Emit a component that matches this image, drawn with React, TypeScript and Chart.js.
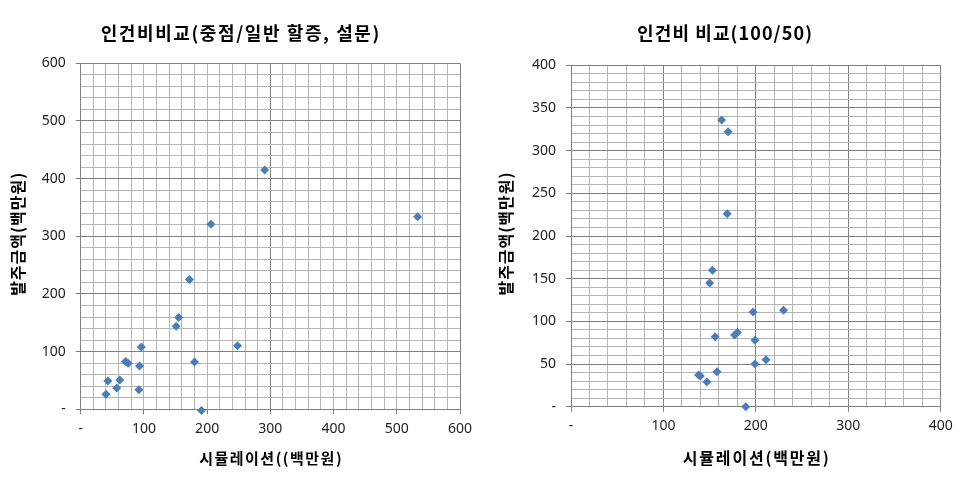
import React, { useEffect, useRef } from 'react';
import { Chart, registerables } from 'chart.js';
Chart.register(...registerables);

// Left chart: 인건비비교(중점/일반 할증, 설문)
const leftSimX = [291, 533, 206, 172, 155, 151, 248, 96, 71, 75, 180, 93, 43, 62, 57, 92, 40, 191];
const leftOrderY = [415, 334, 321, 225, 159, 144, 110, 108, 83, 80, 82, 75, 49, 51, 37, 34, 26, -2];

// Right chart: 인건비 비교(100/50)
const rightSimX = [163, 170, 169, 153, 150, 197, 230, 156, 177, 180, 199, 199, 211, 158, 138, 140, 147, 189];
const rightOrderY = [336, 322, 226, 160, 145, 111, 113, 82, 84, 87, 78, 50, 55, 41, 37, 36, 29, 0];

const leftTitle = '인건비비교(중점/일반 할증, 설문)';
const rightTitle = '인건비 비교(100/50)';
const leftXTitle = '시뮬레이션((백만원)';
const rightXTitle = '시뮬레이션(백만원)';
const yTitle = '발주금액(백만원)';

const MAJOR = '#808080';
const MINOR = '#b4b4b4';
const POINT = '#4a7ebb';

type Geo = {
  width: number; height: number;
  left: number; right: number; top: number; bottom: number;
  titleX: number; titleSize: number; titleSpacing: number;
  xTitleSize: number; xTitleSpacing: number;
  yTitleX: number;
};

type Cfg = {
  xs: number[]; ys: number[];
  xMax: number; yMax: number;
  xStep: number; yStep: number;
  xLabelEvery: number; yLabelEvery: number;
  xMajorEvery: number; yMajorEvery: number;
  title: string; xTitle: string;
  geo: Geo;
};

function isMult(v: number, m: number) {
  return Math.abs(v / m - Math.round(v / m)) < 1e-6;
}

function centeredText(ctx: CanvasRenderingContext2D, text: string, x: number, y: number, spacing: number) {
  (ctx as any).letterSpacing = spacing + 'px';
  ctx.fillText(text, x + spacing / 2, y);
  (ctx as any).letterSpacing = '0px';
}

function ScatterPanel({ cfg }: { cfg: Cfg }) {
  const ref = useRef<HTMLCanvasElement | null>(null);
  useEffect(() => {
    if (!ref.current) return;
    const g = cfg.geo;
    const titlePlugin = {
      id: 'titles',
      afterDraw(chart: any) {
        const ctx = chart.ctx as CanvasRenderingContext2D;
        const ca = chart.chartArea;
        ctx.save();
        ctx.fillStyle = '#000';
        ctx.textAlign = 'center';
        ctx.textBaseline = 'middle';
        ctx.font = `bold ${g.titleSize}px "Noto Sans CJK KR"`;
        centeredText(ctx, cfg.title, g.titleX, 33, g.titleSpacing);
        ctx.font = `bold ${g.xTitleSize}px "Noto Sans CJK KR"`;
        centeredText(ctx, cfg.xTitle, (ca.left + ca.right) / 2, 458, g.xTitleSpacing);
        ctx.translate(g.yTitleX, (ca.top + ca.bottom) / 2 - 2);
        ctx.rotate(-Math.PI / 2);
        ctx.font = `bold 16px "Noto Sans CJK KR"`;
        centeredText(ctx, yTitle, 0, 0, 1);
        ctx.restore();
      },
    };
    const chart = new Chart(ref.current, {
      type: 'scatter',
      data: {
        datasets: [
          {
            data: cfg.xs.map((x, i) => ({ x, y: cfg.ys[i] })),
            pointStyle: 'rectRot',
            radius: 4.5,
            hoverRadius: 4.5,
            backgroundColor: POINT,
            borderColor: POINT,
            borderWidth: 0,
            clip: false as any,
          },
        ],
      },
      options: {
        animation: false,
        responsive: false,
        events: [],
        layout: { padding: { left: 0, top: g.top, right: g.width - g.right, bottom: 0 } },
        plugins: { legend: { display: false }, tooltip: { enabled: false }, title: { display: false } },
        scales: {
          x: {
            type: 'linear',
            min: 0,
            max: cfg.xMax,
            afterBuildTicks: (scale: any) => {
              const t = [];
              for (let v = 0; v <= cfg.xMax + 1e-6; v += cfg.xStep) t.push({ value: v });
              scale.ticks = t;
            },
            afterFit: (scale: any) => { scale.height = g.height - g.bottom; },
            border: { color: MAJOR, width: 1 },
            grid: {
              color: (c: any) => (isMult(c.tick.value, cfg.xMajorEvery) ? MAJOR : MINOR),
              tickColor: (c: any) => (isMult(c.tick.value, cfg.xLabelEvery) ? MAJOR : 'rgba(0,0,0,0)'),
              tickLength: 5,
              lineWidth: 1,
            },
            ticks: {
              autoSkip: false,
              maxRotation: 0,
              padding: 6,
              color: '#222',
              font: { family: '"Noto Sans"', size: 14 },
              callback: (v: any) => {
                const n = Number(v);
                if (!isMult(n, cfg.xLabelEvery)) return '';
                return n === 0 ? '-' : String(n);
              },
            },
          },
          y: {
            type: 'linear',
            min: 0,
            max: cfg.yMax,
            afterBuildTicks: (scale: any) => {
              const t = [];
              for (let v = 0; v <= cfg.yMax + 1e-6; v += cfg.yStep) t.push({ value: v });
              scale.ticks = t;
            },
            afterFit: (scale: any) => { scale.width = g.left; },
            border: { color: MAJOR, width: 1 },
            grid: {
              color: (c: any) => (isMult(c.tick.value, cfg.yMajorEvery) ? MAJOR : MINOR),
              tickColor: (c: any) => (isMult(c.tick.value, cfg.yLabelEvery) ? MAJOR : 'rgba(0,0,0,0)'),
              tickLength: 5,
              lineWidth: 1,
            },
            ticks: {
              autoSkip: false,
              padding: 10,
              color: '#222',
              font: { family: '"Noto Sans"', size: 14 },
              callback: (v: any) => {
                const n = Number(v);
                if (!isMult(n, cfg.yLabelEvery)) return '';
                return n === 0 ? '-' : String(n);
              },
            },
          },
        },
      },
      plugins: [titlePlugin],
    } as any);
    return () => chart.destroy();
  }, [cfg]);
  return (
    <canvas
      ref={ref}
      width={cfg.geo.width}
      height={cfg.geo.height}
      style={{ width: cfg.geo.width, height: cfg.geo.height, display: 'block' }}
    />
  );
}

const leftCfg: Cfg = {
  xs: leftSimX, ys: leftOrderY,
  xMax: 600, yMax: 600, xStep: 20, yStep: 20,
  xLabelEvery: 100, yLabelEvery: 100, xMajorEvery: 300, yMajorEvery: 100,
  title: leftTitle, xTitle: leftXTitle,
  geo: { width: 490, height: 490, left: 80.7, right: 460, top: 63.3, bottom: 409.3, titleX: 240, titleSize: 18, titleSpacing: 1.6, xTitleSize: 15, xTitleSpacing: 1.5, yTitleX: 18 },
};

const rightCfg: Cfg = {
  xs: rightSimX, ys: rightOrderY,
  xMax: 400, yMax: 400, xStep: 20, yStep: 10,
  xLabelEvery: 100, yLabelEvery: 50, xMajorEvery: 100, yMajorEvery: 50,
  title: rightTitle, xTitle: rightXTitle,
  geo: { width: 487, height: 490, left: 81, right: 450.7, top: 65.3, bottom: 406.7, titleX: 234.5, titleSize: 18, titleSpacing: 1.1, xTitleSize: 16, xTitleSpacing: 1.8, yTitleX: 16 },
};

export default function App() {
  return (
    <div style={{ position: 'absolute', left: 0, top: 0, width: 977, height: 490, background: '#fff' }}>
      <div style={{ position: 'absolute', left: 0, top: 0 }}>
        <ScatterPanel cfg={leftCfg} />
      </div>
      <div style={{ position: 'absolute', left: 490, top: 0 }}>
        <ScatterPanel cfg={rightCfg} />
      </div>
    </div>
  );
}
